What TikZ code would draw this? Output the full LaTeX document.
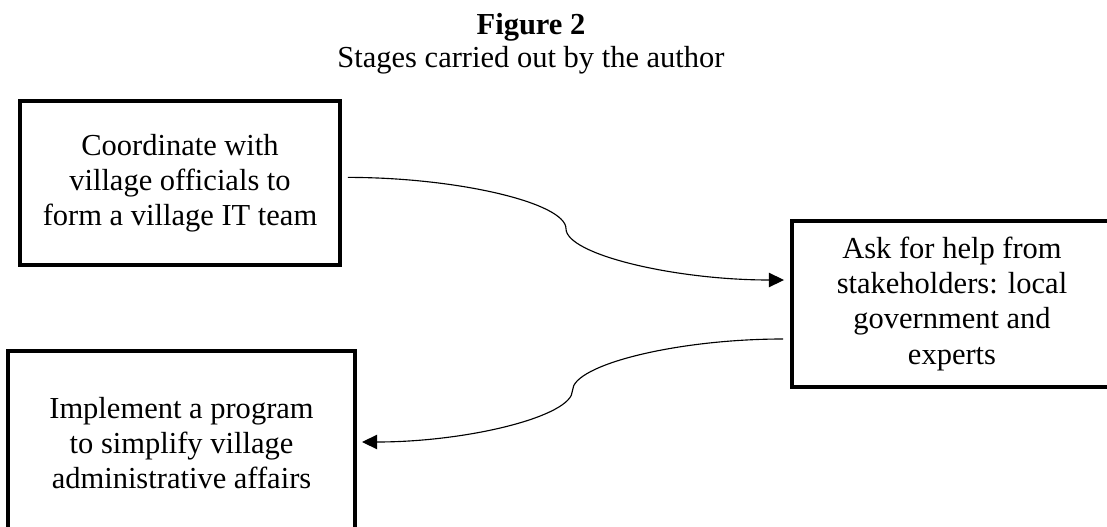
\documentclass[tikz,border=0pt]{standalone}
\usepackage{fontspec}
\setmainfont{Liberation Serif}
\usepackage{tikz}
\usetikzlibrary{arrows.meta,positioning,calc}
\tikzstyle{stage} = [draw, line width=2.8pt, align=center, font=\fontsize{21.7}{24.9}\selectfont]
\tikzstyle{link} = [line width=0.8pt, -{Triangle[length=0.38cm,width=0.36cm]}]

\begin{document}
\begin{tikzpicture}
\useasboundingbox (0,0) rectangle (27.675,13.15);
\clip (0,0) rectangle (27.675,13.15);
\fill[white] (0,0) rectangle (27.675,13.15);

% Caption
\node[anchor=base, font=\fontsize{21.7}{24.9}\selectfont\bfseries] (fig) at (13.275,12.275) {Figure 2};
\node[anchor=base, font=\fontsize{21.7}{24.9}\selectfont] (sub) at (13.275,11.45) {Stages carried out by the author};

% Stages
\node[stage, minimum width=8cm, minimum height=4.1cm] (coord) at (4.5,8.575) {Coordinate with\\village officials to\\form a village IT team};
\node[stage, minimum width=8cm, minimum height=4.15cm] (help) at (23.8,5.55) {Ask for help from\\stakeholders: local\\government and\\experts};
\node[stage, minimum width=8.675cm, minimum height=4.6cm] (impl) at (4.5375,2.075) {Implement a program\\to simplify village\\administrative affairs};

% Curved links
\coordinate (c1s) at ([xshift=0.15cm,yshift=0.14cm]coord.east);
\coordinate (c1e) at ([xshift=-0.15cm,yshift=0.6cm]help.west);
\coordinate (c1m) at ($(c1s)!0.5!(c1e)$);
\draw[link] (c1s) .. controls +(2.75,0) and +(0,0.64) .. (c1m) .. controls +(0,-0.64) and +(-2.75,0) .. (c1e);

\coordinate (c2s) at ([xshift=-0.175cm,yshift=-0.875cm]help.west);
\coordinate (c2e) at ([xshift=0.125cm,yshift=0.025cm]impl.east);
\coordinate (c2m) at ($(c2s)!0.5!(c2e)$);
\draw[link] (c2s) .. controls +(-2.66,0) and +(0,0.64) .. (c2m) .. controls +(0,-0.64) and +(2.66,0) .. (c2e);
\end{tikzpicture}
\end{document}
